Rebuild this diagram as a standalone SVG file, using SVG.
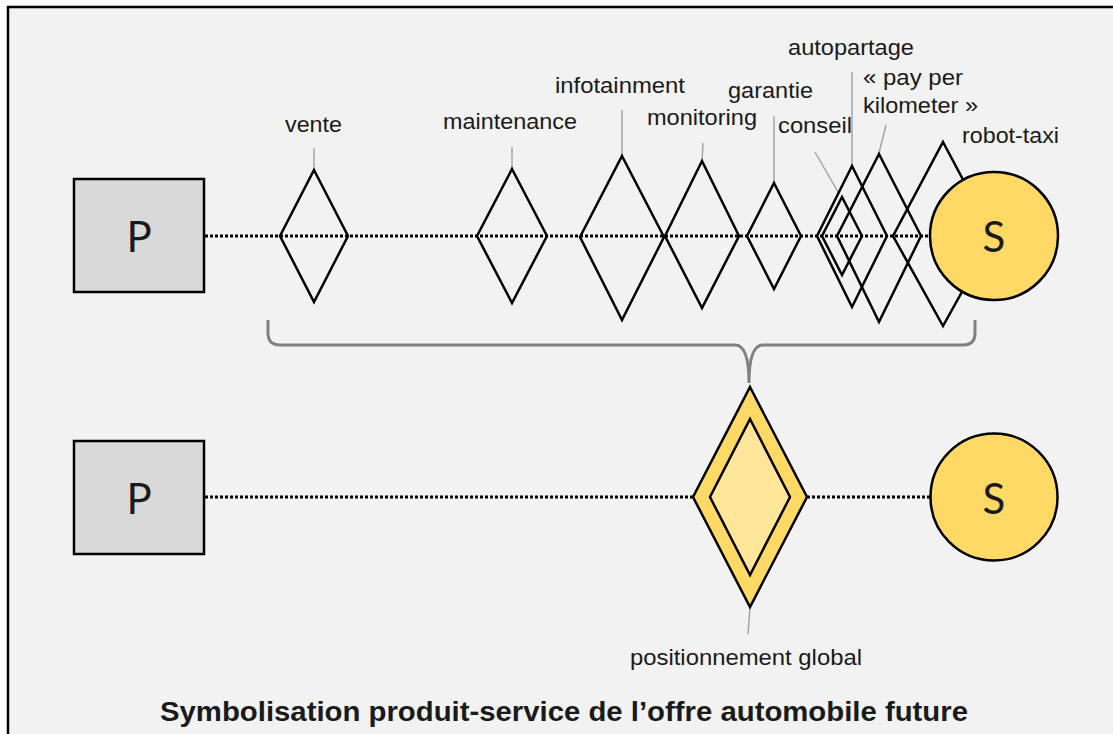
<svg xmlns="http://www.w3.org/2000/svg" width="1113" height="734" viewBox="0 0 1113 734">
<style>
text{font-family:"Liberation Sans",Arial,sans-serif;fill:#1a1a1a}
.lbl{font-size:21.5px}
.big{font-family:Lato,"Liberation Sans",sans-serif;font-size:42px}
.title{font-size:27px;font-weight:bold}
.dia{fill:none;stroke:#000;stroke-width:2.5;stroke-linejoin:miter}
.lead{stroke:#a6a6a6;stroke-width:1.5;fill:none}
.dot{stroke:#000;stroke-width:3;stroke-dasharray:3 2;fill:none}
.box{fill:#d9d9d9;stroke:#000;stroke-width:2.5}
.circ{fill:#ffd966;stroke:#000;stroke-width:2.5}
</style>
<rect x="0" y="0" width="1113" height="734" fill="#ffffff"/>
<rect x="8" y="7" width="1120" height="740" fill="#f2f2f2" stroke="#000" stroke-width="2.5"/>

<g id="connectors">
<line class="dot" x1="205" y1="236" x2="931" y2="236"/>
<line class="dot" x1="205" y1="497" x2="693" y2="497"/>
<line class="dot" x1="807" y1="497" x2="931" y2="497"/>
<path d="M268,320 L268,333 Q268,345 280,345 L735,345 Q749,345 749,383 Q749,345 763,345 L963,345 Q975,345 975,333 L975,320" fill="none" stroke="#808080" stroke-width="3"/>
<line class="lead" x1="314" y1="148" x2="314" y2="169"/>
<line class="lead" x1="512" y1="147" x2="512" y2="169"/>
<line class="lead" x1="622" y1="110" x2="622" y2="155"/>
<line class="lead" x1="703" y1="143" x2="702" y2="162"/>
<line class="lead" x1="774" y1="116" x2="774" y2="183"/>
<line class="lead" x1="815" y1="152" x2="838" y2="192"/>
<line class="lead" x1="852" y1="72" x2="852" y2="166"/>
<line class="lead" x1="886" y1="125" x2="879" y2="153"/>
<line class="lead" x1="750" y1="607" x2="748" y2="634"/>
</g>

<g id="node-P1">
<rect class="box" x="74" y="179" width="130" height="113"/>
<text class="big" x="139" y="252" text-anchor="middle">P</text>
</g>
<g id="node-vente">
<polygon class="dia" points="314,170 348,236 314,302 280,236"/>
<text class="lbl" x="285" y="132" textLength="57" lengthAdjust="spacingAndGlyphs">vente</text>
</g>
<g id="node-maintenance">
<polygon class="dia" points="512,169 547,236 512,303 477,236"/>
<text class="lbl" x="443" y="129" textLength="134" lengthAdjust="spacingAndGlyphs">maintenance</text>
</g>
<g id="node-infotainment">
<polygon class="dia" points="622,156 664,237 622,320 580,237"/>
<text class="lbl" x="555" y="93" textLength="130" lengthAdjust="spacingAndGlyphs">infotainment</text>
</g>
<g id="node-monitoring">
<polygon class="dia" points="702,161 739,236 702,308 665,236"/>
<text class="lbl" x="647" y="125" textLength="110" lengthAdjust="spacingAndGlyphs">monitoring</text>
</g>
<g id="node-garantie">
<polygon class="dia" points="774,183 801,236 774,289 747,236"/>
<text class="lbl" x="728" y="98" textLength="85" lengthAdjust="spacingAndGlyphs">garantie</text>
</g>
<g id="node-conseil">
<polygon class="dia" points="842,197 862,236 842,275 822,236"/>
<text class="lbl" x="778" y="133" textLength="74" lengthAdjust="spacingAndGlyphs">conseil</text>
</g>
<g id="node-autopartage">
<polygon class="dia" points="852,166 887,236 852,307 817,236"/>
<text class="lbl" x="788" y="55" textLength="126" lengthAdjust="spacingAndGlyphs">autopartage</text>
</g>
<g id="node-paykm">
<polygon class="dia" points="879,154 921,236 879,322 837,236"/>
<text class="lbl" x="863" y="85" textLength="100" lengthAdjust="spacingAndGlyphs">« pay per</text>
<text class="lbl" x="863" y="113" textLength="115" lengthAdjust="spacingAndGlyphs">kilometer »</text>
</g>
<g id="node-robottaxi">
<polygon class="dia" points="943,142 993,236 943,326 893,236"/>
<text class="lbl" x="962" y="143" textLength="97" lengthAdjust="spacingAndGlyphs">robot-taxi</text>
</g>
<g id="node-S1">
<circle class="circ" cx="994" cy="236" r="64"/>
<text class="big" x="994" y="252" text-anchor="middle">S</text>
</g>

<g id="node-P2">
<rect class="box" x="74" y="441" width="130" height="113"/>
<text class="big" x="139" y="514" text-anchor="middle">P</text>
</g>
<g id="node-global">
<polygon points="750,387 807,497 750,607 693,497" fill="#ffd966" stroke="#000" stroke-width="2.5"/>
<polygon points="750,419 790,497 750,575 710,497" fill="#ffe699" stroke="#000" stroke-width="2.5"/>
<text class="lbl" x="630" y="665" textLength="232" lengthAdjust="spacingAndGlyphs">positionnement global</text>
</g>
<g id="node-S2">
<circle class="circ" cx="994" cy="497" r="63.5"/>
<text class="big" x="994" y="514" text-anchor="middle">S</text>
</g>

<text class="title" x="160" y="721" textLength="808" lengthAdjust="spacingAndGlyphs">Symbolisation produit-service de l’offre automobile future</text>
</svg>
